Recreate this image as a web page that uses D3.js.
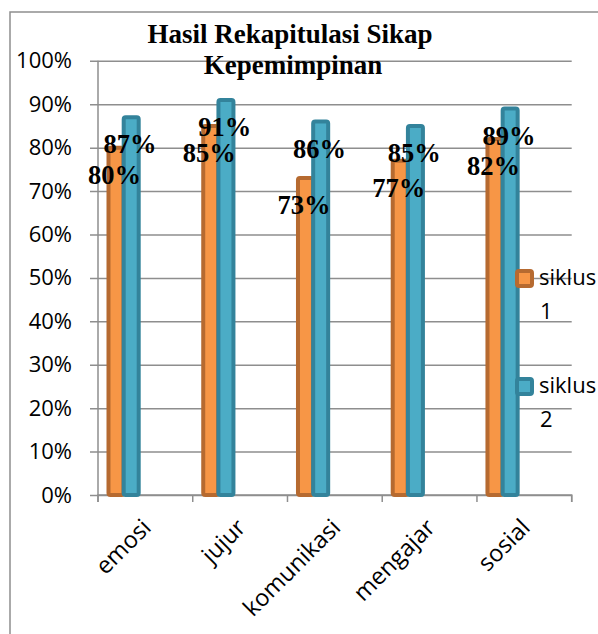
<!DOCTYPE html>
<html>
<head>
<meta charset="utf-8" />
<script src="https://d3js.org/d3.v7.min.js"></script>
<style>
    body { margin: 0; background: #fff; }
    svg text { font-family: "Open Sans", sans-serif; }
    .judul, .nilai { font-family: "Liberation Serif", "Times New Roman", serif; font-weight: bold; }
</style>
</head>
<body>
<div id="visu"></div>
<script>

    // chart size
    const largeur = 598;
    const hauteur = 634;

    // data
    const kategori = ["emosi", "jujur", "komunikasi", "mengajar", "sosial"];
    const siklus1 = [0.80, 0.85, 0.73, 0.77, 0.82];
    const siklus2 = [0.87, 0.91, 0.86, 0.85, 0.89];
    const namaSeri = [["siklus", "1"], ["siklus", "2"]];
    const yTicks = [0, 0.1, 0.2, 0.3, 0.4, 0.5, 0.6, 0.7, 0.8, 0.9, 1.0];
    const judul = ["Hasil Rekapitulasi Sikap", "Kepemimpinan"];

    const isi = ["#F79646", "#4BACC6"];
    const tepi = ["#B66A30", "#33839B"];
    const abu = "#8e8e8e";

    const svg = d3.select('#visu')
        .append('svg')
        .attr('width', largeur)
        .attr('height', hauteur);

    // outer frame
    svg.append('rect')
        .attr('x', 10).attr('y', 12)
        .attr('width', 640).attr('height', 660)
        .attr('fill', 'none')
        .attr('stroke', abu)
        .attr('stroke-width', 1.5);

    // scales
    const x = d3.scaleBand()
        .domain(kategori)
        .range([98, 571.7])
        .padding(0);

    const y = d3.scaleLinear()
        .domain([0, 1])
        .range([495, 60.8]);

    // gridlines + y axis
    const axeY = d3.axisLeft(y)
        .tickValues(yTicks)
        .tickSize(-(571.7 - 90))
        .tickPadding(18)
        .tickFormat(d3.format('.0%'));

    svg.append('g')
        .attr('transform', 'translate(90,0)')
        .call(axeY)
        .call(g => g.select('.domain').remove())
        .call(g => g.selectAll('.tick line').attr('stroke', abu).attr('stroke-width', 1.5))
        .call(g => g.selectAll('.tick text')
            .attr('x', -18)
            .attr('fill', '#000')
            .attr('font-size', 22)
            .attr('font-family', '"Open Sans", sans-serif'));

    // vertical axis line
    svg.append('line')
        .attr('x1', 98).attr('x2', 98)
        .attr('y1', y(1)).attr('y2', y(0))
        .attr('stroke', abu).attr('stroke-width', 1.5);

    // x axis
    const axeX = d3.axisBottom(x)
        .tickSize(7)
        .tickFormat('');

    svg.append('g')
        .attr('transform', `translate(0, ${y(0)})`)
        .call(axeX)
        .call(g => g.select('.domain').attr('stroke', abu).attr('stroke-width', 1.5)
            .attr('d', `M98,7V0H571.7V7`))
        .call(g => g.selectAll('.tick').remove())
        .call(g => {
            // ticks at the category borders
            const batas = kategori.map(k => x(k)).concat([x.range()[1]]);
            g.selectAll('.batas')
                .data(batas)
                .enter()
                .append('line')
                .attr('x1', d => d).attr('x2', d => d)
                .attr('y1', 0).attr('y2', 7)
                .attr('stroke', abu).attr('stroke-width', 1.5);
        });

    // category labels
    svg.selectAll('.kat')
        .data(kategori)
        .enter()
        .append('text')
        .attr('class', 'kat')
        .attr('text-anchor', 'end')
        .attr('font-size', 23.5)
        .attr('transform', d => `translate(${x(d) + x.bandwidth() / 2 + 7}, 529) rotate(-45)`)
        .text(d => d);

    // bars
    const seri = [siklus1, siklus2];
    const geser = [10.5, 25.7];
    const lebar = 15;

    seri.forEach((nilai, s) => {
        svg.selectAll('.bar' + s)
            .data(nilai)
            .enter()
            .append('rect')
            .attr('class', 'bar' + s)
            .attr('x', (d, i) => x(kategori[i]) + geser[s])
            .attr('y', d => y(d))
            .attr('width', lebar)
            .attr('height', d => y(0) - y(d))
            .attr('rx', 2)
            .attr('fill', isi[s])
            .attr('stroke', tepi[s])
            .attr('stroke-width', 4);
    });

    // value labels
    const posLabel = [16.5, 32];
    seri.forEach((nilai, s) => {
        svg.selectAll('.nilai' + s)
            .data(nilai)
            .enter()
            .append('text')
            .attr('class', 'nilai')
            .attr('text-anchor', 'middle')
            .attr('font-size', 26.5)
            .attr('x', (d, i) => x(kategori[i]) + posLabel[s])
            .attr('y', d => y(d) + 36)
            .text(d => Math.round(d * 100) + '%');
    });

    // title
    svg.selectAll('.judul')
        .data(judul)
        .enter()
        .append('text')
        .attr('class', 'judul')
        .attr('text-anchor', 'middle')
        .attr('font-size', 27)
        .attr('x', (d, i) => i === 0 ? 290 : 293)
        .attr('y', (d, i) => 43 + i * 31)
        .text(d => d);

    // legend
    const legenda = svg.selectAll('.legenda')
        .data(namaSeri)
        .enter()
        .append('g')
        .attr('class', 'legenda')
        .attr('transform', (d, i) => `translate(515, ${269 + i * 108})`);

    legenda.append('rect')
        .attr('x', 2).attr('y', 2)
        .attr('width', 15).attr('height', 15)
        .attr('rx', 2)
        .attr('fill', (d, i) => isi[i])
        .attr('stroke', (d, i) => tepi[i])
        .attr('stroke-width', 4);

    legenda.append('text')
        .attr('x', 24)
        .attr('y', 16)
        .attr('font-size', 22)
        .text(d => d[0]);

    legenda.append('text')
        .attr('x', 25)
        .attr('y', 50)
        .attr('font-size', 22)
        .text(d => d[1]);

</script>
</body>
</html>
